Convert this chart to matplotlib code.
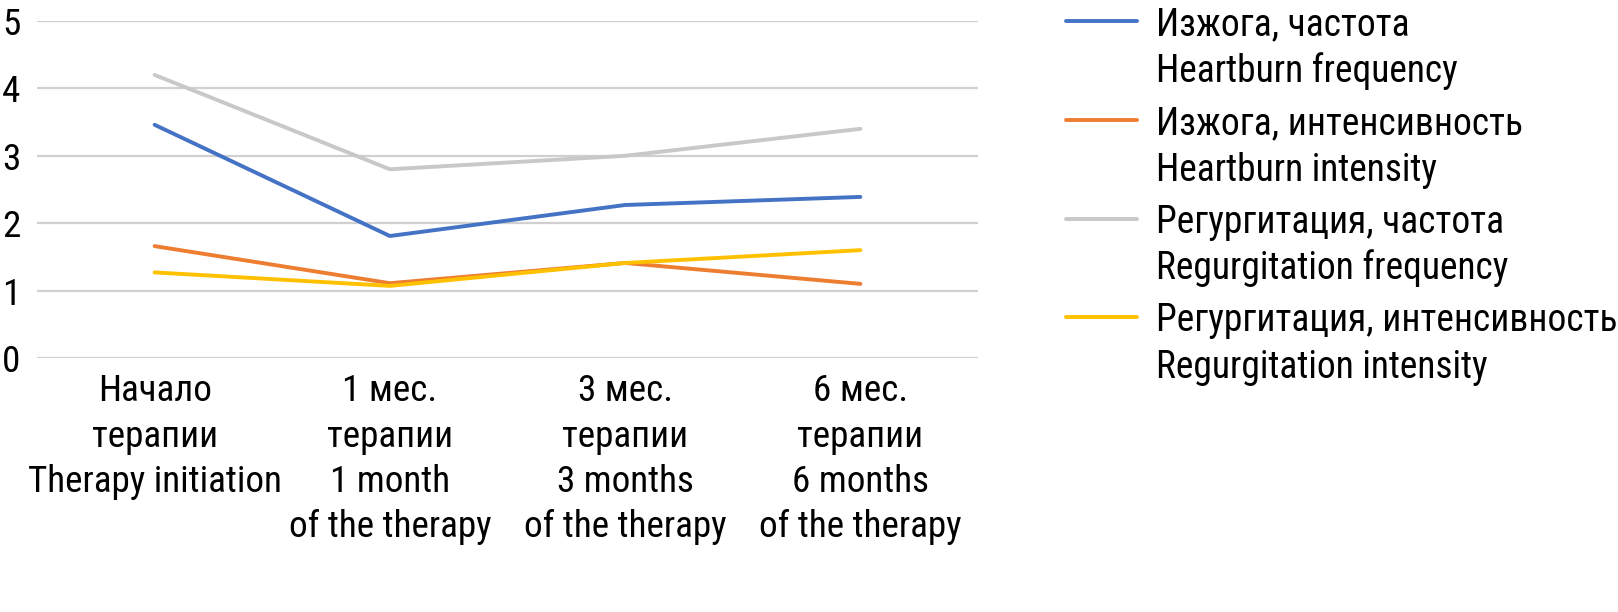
import matplotlib
matplotlib.use("Agg")
import matplotlib.pyplot as plt
from matplotlib import font_manager
from matplotlib.lines import Line2D

categories = ["Начало\nтерапии\nTherapy initiation",
              "1 мес.\nтерапии\n1 month\nof the therapy",
              "3 мес.\nтерапии\n3 months\nof the therapy",
              "6 мес.\nтерапии\n6 months\nof the therapy"]
series_names = ["Изжога, частота\nHeartburn frequency",
                "Изжога, интенсивность\nHeartburn intensity",
                "Регургитация, частота\nRegurgitation frequency",
                "Регургитация, интенсивность\nRegurgitation intensity"]
heartburn_freq = [3.46, 1.81, 2.27, 2.39]
heartburn_int = [1.66, 1.11, 1.41, 1.10]
regurg_freq = [4.20, 2.80, 3.00, 3.40]
regurg_int = [1.27, 1.07, 1.41, 1.60]
colors = ["#4472C4", "#ED7D31", "#C8C8C8", "#FFC000"]
yticks = [0, 1, 2, 3, 4, 5]

# pick a condensed font if one is installed
cond = None
for f in font_manager.fontManager.ttflist:
    st = f.stretch
    is_cond = (isinstance(st, str) and 'condensed' in st) or (isinstance(st, (int, float)) and st < 500)
    if is_cond or 'Condensed' in f.name or 'Narrow' in f.name:
        if f.weight in (400, 'normal', 'regular', 'book') and f.style == 'normal':
            pref = 0 if 'Roboto' in f.name else (1 if 'Liberation' in f.name else 2)
            if cond is None or pref < cond[0]:
                cond = (pref, f.fname)

if cond is not None:
    fp = font_manager.FontProperties(fname=cond[1])
    tick_size, leg_size = 26.7, 27
else:
    fp = font_manager.FontProperties(family=["Liberation Sans", "DejaVu Sans"])
    tick_size, leg_size = 23.5, 24

def F(size):
    p = fp.copy()
    p.set_size(size)
    return p

W, H = 1618, 612
fig = plt.figure(figsize=(W/100, H/100), dpi=100)
ax = fig.add_axes([37/W, 1-358/H, (978-37)/W, (358-21)/H])

x = list(range(len(categories)))
for vals, c in zip([heartburn_freq, heartburn_int, regurg_freq, regurg_int], colors):
    ax.plot(x, vals, color=c, lw=2.8, solid_capstyle='round', zorder=3)

ax.set_xlim(-0.5, len(categories) - 0.5)
ax.set_ylim(0, 5)
ax.set_yticks(yticks)
ax.set_yticklabels([str(t) for t in yticks], fontproperties=F(tick_size))
ax.set_xticks(x)
ax.set_xticklabels(categories, fontproperties=F(tick_size), linespacing=1.33, va='top')
ax.tick_params(axis='both', length=0)
ax.tick_params(axis='x', pad=11)
ax.tick_params(axis='y', pad=12)
ax.yaxis.grid(True, color="#D0D0D0", lw=1.6)
for s in ax.spines.values():
    s.set_visible(False)

# legend (drawn manually: handle aligned with the first text line)
handle_y = [21, 120, 219, 317]
for name, c, yp in zip(series_names, colors, handle_y):
    yf = 1 - yp/H
    fig.add_artist(Line2D([1066/W, 1137/W], [yf, yf], color=c, lw=2.8,
                          solid_capstyle='round', transform=fig.transFigure))
    for i, line in enumerate(name.split("\n")):
        fig.text(1156/W, 1 - (yp + 14 + i*46.5)/H, line, fontproperties=F(leg_size),
                 va='baseline', ha='left')

fig.savefig("out.png", dpi=100)
